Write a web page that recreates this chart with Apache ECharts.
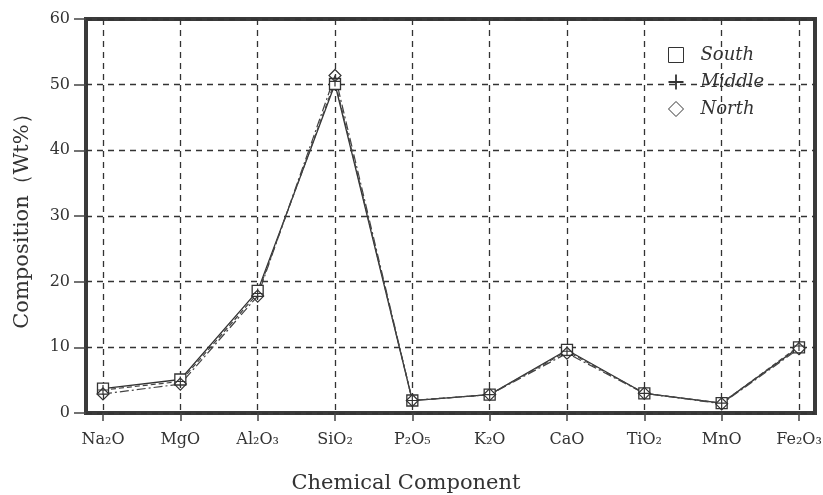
<!DOCTYPE html>
<html lang="en">
<head>
    <meta charset="UTF-8">
    <title>Composition</title>
    <script src="https://cdn.jsdelivr.net/npm/echarts@6/dist/echarts.min.js"></script>
    <style>
        html, body { margin: 0; padding: 0; background: #fff; }
        #echarts { width: 823px; height: 495px; }
    </style>
</head>
<body>
    <div id="echarts"></div>
    <script>
        // 成分
        var components = ['Na₂O', 'MgO', 'Al₂O₃', 'SiO₂', 'P₂O₅', 'K₂O', 'CaO', 'TiO₂', 'MnO', 'Fe₂O₃'];
        var south = [3.7, 5.1, 18.6, 50.1, 1.9, 2.8, 9.6, 3.0, 1.5, 10.0];
        var middle = [3.5, 4.8, 18.2, 50.5, 1.9, 2.8, 9.4, 3.0, 1.5, 10.2];
        var north = [2.9, 4.4, 17.8, 51.4, 1.9, 2.8, 9.1, 3.0, 1.4, 9.8];
        var yTicks = [0, 10, 20, 30, 40, 50, 60];

        var serif = "'DejaVu Serif', 'Liberation Serif', serif";
        var plus = 'path://M4.4,0H5.6V4.4H10V5.6H5.6V10H4.4V5.6H0V4.4H4.4Z';

        var myChart = echarts.init(document.getElementById('echarts'));
        var option = {
            animation: false,
            textStyle: { fontFamily: serif },
            grid: [
                // 外框
                { left: 86, right: 8, top: 19, bottom: 82, outerBoundsMode: 'none', show: true, borderColor: '#3a3a3a', borderWidth: 4, backgroundColor: 'transparent' },
                // 数据区
                { left: 103, right: 24, top: 19, bottom: 82, outerBoundsMode: 'none' }
            ],
            legend: {
                orient: 'vertical',
                left: 668,
                top: 46,
                padding: 0,
                itemWidth: 15,
                itemHeight: 15,
                itemGap: 9,
                textStyle: { fontFamily: serif, fontStyle: 'italic', fontSize: 18, lineHeight: 18, color: '#333', padding: [0, 0, 0, 12] },
                data: [
                    { name: 'South', icon: 'rect', itemStyle: { color: '#fff', borderColor: '#333', borderWidth: 1 } },
                    { name: 'Middle', icon: plus, itemStyle: { color: '#333', borderWidth: 0 } },
                    { name: 'North', icon: 'diamond', itemStyle: { color: '#fff', borderColor: '#333', borderWidth: 1 } }
                ]
            },
            xAxis: [
                { type: 'value', gridIndex: 0, min: 0, max: 1, show: false },
                {
                    type: 'category',
                    gridIndex: 1,
                    data: components,
                    boundaryGap: false,
                    name: 'Chemical Component',
                    nameLocation: 'middle',
                    nameGap: 60,
                    nameTextStyle: { fontFamily: serif, fontSize: 21, color: '#333', padding: [0, 90, 0, 0] },
                    axisLine: { show: false },
                    axisTick: { show: true, inside: false, length: 8, lineStyle: { color: '#444', width: 1.5 } },
                    axisLabel: { fontFamily: serif, fontSize: 16, color: '#333', margin: 19 },
                    splitLine: { show: true, lineStyle: { color: '#333', type: [6, 5], width: 1.3 } }
                }
            ],
            yAxis: [
                {
                    type: 'value',
                    gridIndex: 0,
                    min: 0,
                    max: 60,
                    interval: 10,
                    name: 'Composition（Wt%）',
                    nameLocation: 'middle',
                    nameGap: 53,
                    nameTextStyle: { fontFamily: serif, fontSize: 21, color: '#333' },
                    axisLine: { show: false },
                    axisTick: { show: true, inside: false, length: 12, lineStyle: { color: '#444', width: 1.5 } },
                    axisLabel: {
                        fontFamily: serif, fontSize: 16, color: '#333', margin: 16,
                        formatter: function (v) { return yTicks.indexOf(v) >= 0 ? String(v) : ''; }
                    },
                    splitLine: { show: true, lineStyle: { color: '#333', type: [6, 5], width: 1.3 } }
                },
                { type: 'value', gridIndex: 1, min: 0, max: 60, show: false }
            ],
            series: [
                {
                    name: 'South', type: 'line', xAxisIndex: 1, yAxisIndex: 1, data: south,
                    symbol: 'rect', symbolSize: 11,
                    itemStyle: { color: '#fff', borderColor: '#333', borderWidth: 1.3 },
                    lineStyle: { color: '#333', width: 1.3, type: 'solid' }
                },
                {
                    name: 'Middle', type: 'line', xAxisIndex: 1, yAxisIndex: 1, data: middle,
                    symbol: plus, symbolSize: 10,
                    itemStyle: { color: '#333', borderWidth: 0 },
                    lineStyle: { color: '#444', width: 1.2, type: [5, 3] }
                },
                {
                    name: 'North', type: 'line', xAxisIndex: 1, yAxisIndex: 1, data: north,
                    symbol: 'diamond', symbolSize: 12,
                    itemStyle: { color: 'rgba(255,255,255,0)', borderColor: '#333', borderWidth: 1.2 },
                    lineStyle: { color: '#444', width: 1.2, type: [9, 3, 2, 3] }
                }
            ]
        };
        myChart.setOption(option);
    </script>
</body>
</html>
